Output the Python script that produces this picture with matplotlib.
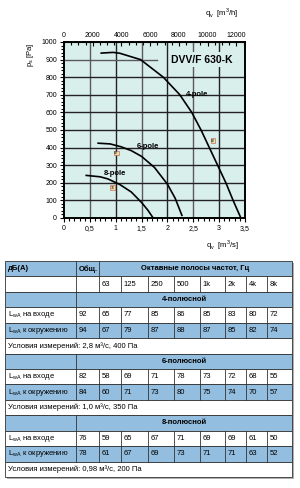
import matplotlib.pyplot as plt
import matplotlib.ticker as mticker
from matplotlib.patches import Rectangle

plt.rcParams['font.family'] = ['Liberation Sans', 'DejaVu Sans']

# curve data, q in m3/s, p in Pa
q4 = [0.72, 0.95, 1.08, 1.48, 1.92, 2.24, 2.47, 2.65, 2.81, 2.97, 3.13, 3.27, 3.42]
p4 = [937, 941, 936, 900, 800, 700, 600, 500, 400, 300, 200, 100, 0]
q6 = [0.66, 0.89, 1.1, 1.3, 1.5, 1.75, 2.0, 2.15, 2.28]
p6 = [425, 421, 405, 383, 350, 287, 192, 112, 15]
q8 = [0.43, 0.70, 0.85, 1.08, 1.3, 1.5, 1.62, 1.72]
p8 = [242, 234, 222, 190, 148, 88, 45, 2]

curve_names = ["4-pole", "6-pole", "8-pole"]
name_pos = [(2.57, 700), (1.63, 405), (0.99, 251)]
mark_vals = ["82", "82", "76"]
mark_pos = [(2.88, 440), (1.01, 370), (0.94, 172)]

# table data
freqs = ["63", "125", "250", "500", "1k", "2k", "4k", "8k"]
groups = ["4-полюсной", "6-полюсной", "8-полюсной"]
inlet = [[92, 65, 77, 85, 86, 85, 83, 80, 72],
         [82, 58, 69, 71, 78, 73, 72, 68, 55],
         [76, 59, 65, 67, 71, 69, 69, 61, 50]]
surround = [[94, 67, 79, 87, 88, 87, 85, 82, 74],
            [84, 60, 71, 73, 80, 75, 74, 70, 57],
            [78, 61, 67, 69, 73, 71, 71, 63, 52]]
conditions = ["Условия измерений: 2,8 м³/с, 400 Па",
              "Условия измерений: 1,0 м³/с, 350 Па",
              "Условия измерений: 0,98 м³/с, 200 Па"]

BG = '#d9efec'
BLUE = '#93bedf'

fig = plt.figure(figsize=(3.0, 4.88), dpi=100)

# ---- chart ----
ax = fig.add_axes([64 / 300, 1 - 218 / 488, 181 / 300, 176 / 488])
ax.set_facecolor(BG)
ax.set_xlim(0, 3.5)
ax.set_ylim(0, 1000)

for x in [0.5, 1, 1.5, 2, 2.5, 3]:
    col = '#222222' if x == int(x) else '#5a5a5a'
    ax.axvline(x, color=col, lw=1.0, zorder=1)
for y in range(100, 1000, 100):
    if y == 900:
        ax.plot([0, 1.8], [900, 900], color='#5a5a5a', lw=1.0, zorder=1)
    else:
        ax.axhline(y, color='#222222', lw=1.0, zorder=1)

for qq, pp in [(q4, p4), (q6, p6), (q8, p8)]:
    ax.plot(qq, pp, color='black', lw=1.2, zorder=3, solid_joinstyle='round')

for name, (x, y) in zip(curve_names, name_pos):
    ax.text(x, y, name, fontsize=5.5, fontweight='bold', ha='center', va='center', zorder=4)
for val, (x, y) in zip(mark_vals, mark_pos):
    ax.text(x, y, val, fontsize=2.5, ha='center', va='center', zorder=4,
            bbox=dict(boxstyle='square,pad=0.1', fc='#e8e0a0', ec='#c05050', lw=0.4))

ax.text(2.67, 900, "DVV/F 630-K", fontsize=7.5, fontweight='bold', ha='center', va='center',
        zorder=4, bbox=dict(boxstyle='square,pad=0.25', fc=BG, ec='none'))

ax.xaxis.set_major_locator(mticker.MultipleLocator(0.5))
ax.xaxis.set_minor_locator(mticker.MultipleLocator(0.1))
ax.xaxis.set_major_formatter(mticker.FuncFormatter(lambda v, p: f"{v:g}".replace('.', ',')))
ax.yaxis.set_major_locator(mticker.MultipleLocator(100))
ax.yaxis.set_minor_locator(mticker.MultipleLocator(20))
ax.tick_params(which='both', labelsize=5, width=0.8, pad=2)
ax.tick_params(which='major', length=3)
ax.tick_params(which='minor', length=2)
for s in ax.spines.values():
    s.set_linewidth(1.4)

top = ax.secondary_xaxis('top', functions=(lambda q: q * 3600, lambda h: h / 3600))
top.xaxis.set_major_locator(mticker.MultipleLocator(2000))
top.xaxis.set_minor_locator(mticker.MultipleLocator(500))
top.tick_params(which='both', direction='in', labelsize=5, width=0.8, pad=2)
top.tick_params(which='major', length=3)
top.tick_params(which='minor', length=2)

fig.text(30 / 300, 1 - 55 / 488, r"p$_\mathregular{s}$ [Pa]", rotation=90, fontsize=5.5,
         ha='center', va='center')
fig.text(222 / 300, 1 - 13 / 488, r"q$_\mathregular{v}$  [m$^\mathregular{3}$/h]", fontsize=5.5,
         ha='center', va='center')
fig.text(222 / 300, 1 - 245 / 488, r"q$_\mathregular{v}$  [m$^\mathregular{3}$/s]", fontsize=5.5,
         ha='center', va='center')

# ---- table ----
tx0, tx1, ty0, ty1 = 5, 292, 261, 477
tb = fig.add_axes([tx0 / 300, 1 - (ty1 + 3) / 488, (tx1 - tx0 + 3) / 300, (ty1 - ty0 + 3) / 488])
tb.set_xlim(tx0, tx1 + 3)
tb.set_ylim(ty1 + 3, ty0)
tb.axis('off')

# drop shadow
tb.add_patch(Rectangle((tx0 + 2, ty0 + 2), tx1 - tx0, ty1 - ty0, fc='#b0b0b0', ec='none', zorder=0))

cols = [5, 76, 99, 121, 148, 174, 200, 225, 246, 267, 292]
rh = (ty1 - ty0) / 14
LC = '#333333'
FS = 5.5


def row_box(r, color, splits):
    y0 = ty0 + r * rh
    tb.add_patch(Rectangle((tx0, y0), tx1 - tx0, rh, fc=color, ec=LC, lw=0.6, zorder=1))
    for c in splits:
        tb.plot([cols[c], cols[c]], [y0, y0 + rh], color=LC, lw=0.6, zorder=2)
    return y0 + rh / 2


ym = row_box(0, BLUE, [1, 2])
tb.text(cols[0] + 2.5, ym, "дБ(А)", fontsize=FS, fontweight='bold', va='center')
tb.text(cols[1] + 2.5, ym, "Общ.", fontsize=FS, fontweight='bold', va='center')
tb.text((cols[2] + cols[-1]) / 2, ym, "Октавные полосы частот, Гц", fontsize=FS,
        fontweight='bold', ha='center', va='center')
ym = row_box(1, 'white', range(1, 10))
for i, f in enumerate(freqs):
    tb.text(cols[i + 2] + 2.5, ym, f, fontsize=FS, va='center')

for g in range(3):
    r = 2 + g * 4
    ym = row_box(r, BLUE, [1])
    tb.text((cols[1] + cols[-1]) / 2, ym, groups[g], fontsize=FS, fontweight='bold',
            ha='center', va='center')
    for k, (label, vals, color) in enumerate([("на входе", inlet[g], 'white'),
                                               ("к окружению", surround[g], BLUE)]):
        ym = row_box(r + 1 + k, color, range(1, 10))
        tb.text(cols[0] + 2.5, ym, r"L$_\mathregular{wA}$ " + label, fontsize=FS, va='center')
        for i, v in enumerate(vals):
            tb.text(cols[i + 1] + 2.5, ym, str(v), fontsize=FS, va='center')
    ym = row_box(r + 3, 'white', [])
    tb.text(cols[0] + 2.5, ym, conditions[g], fontsize=FS, va='center')

fig.savefig("out.png", dpi=100)
